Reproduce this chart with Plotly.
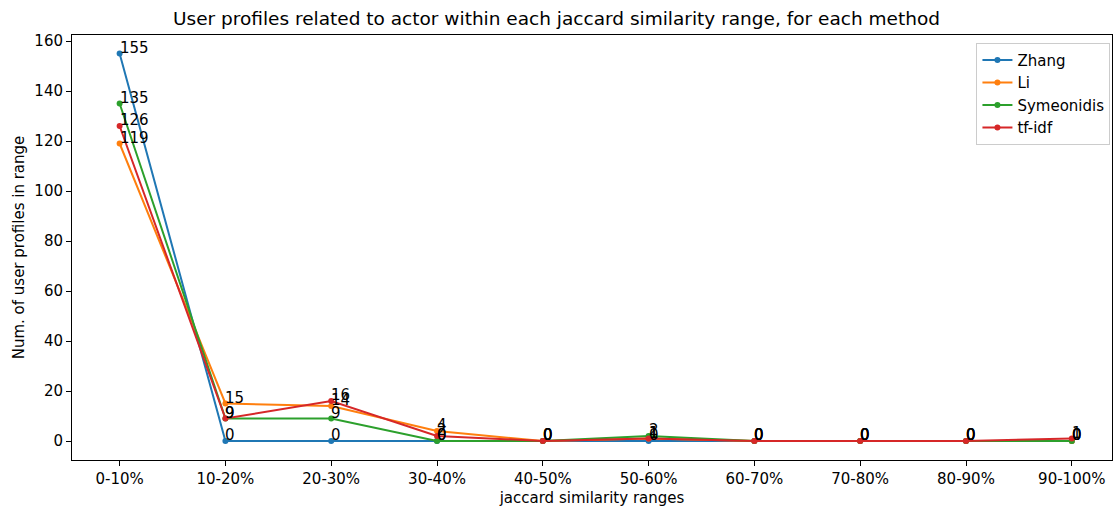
import plotly.graph_objects as go

ranges = ["0-10%", "10-20%", "20-30%", "30-40%", "40-50%",
          "50-60%", "60-70%", "70-80%", "80-90%", "90-100%"]
zhang = [155, 0, 0, 0, 0, 0, 0, 0, 0, 0]
li = [119, 15, 14, 4, 0, 1, 0, 0, 0, 0]
symeonidis = [135, 9, 9, 0, 0, 2, 0, 0, 0, 0]
tfidf = [126, 9, 16, 2, 0, 1, 0, 0, 0, 1]

series = [("Zhang", zhang, "#1f77b4"),
          ("Li", li, "#ff7f0e"),
          ("Symeonidis", symeonidis, "#2ca02c"),
          ("tf-idf", tfidf, "#d62728")]

FS = 15

fig = go.Figure()
xs = list(range(len(ranges)))
for name, vals, color in series:
    fig.add_trace(go.Scatter(x=xs, y=vals, name=name, mode="lines+markers",
                             line=dict(color=color, width=2),
                             marker=dict(color=color, size=6)))
    for xi, v in zip(xs, vals):
        fig.add_annotation(x=xi, y=v, text=str(v), showarrow=False,
                           xanchor="left", yanchor="bottom", yshift=-5, xshift=-2,
                           font=dict(size=FS, color="black"))

axis_common = dict(showline=True, linecolor="black", linewidth=1, mirror=True,
                   ticks="outside", ticklen=5, tickcolor="black", showgrid=False,
                   zeroline=False, tickfont=dict(size=FS, color="black"))
fig.update_xaxes(tickvals=xs, ticktext=ranges, range=[-0.45, 9.38],
                 title=dict(text="jaccard similarity ranges", font=dict(size=FS, color="black"),
                            standoff=5),
                 **axis_common)
fig.update_yaxes(range=[-7.6, 162.4], tickvals=list(range(0, 161, 20)),
                 title=dict(text="Num. of user profiles in range", font=dict(size=FS, color="black"),
                            standoff=6),
                 **axis_common)

fig.update_layout(
    width=1113, height=508,
    margin=dict(l=72, r=1, t=35, b=48),
    plot_bgcolor="white", paper_bgcolor="white",
    font=dict(family="DejaVu Sans", color="black"),
    title=dict(text="User profiles related to actor within each jaccard similarity range, for each method",
               x=0.5, xanchor="center", y=0.963, yanchor="middle", font=dict(size=18.5, color="black")),
    legend=dict(x=0.9985, y=0.982, xanchor="right", yanchor="top",
                bordercolor="#cccccc", borderwidth=1, bgcolor="white",
                font=dict(size=FS, color="black"), tracegroupgap=0),
    showlegend=True,
)

fig.write_html("out.html")
